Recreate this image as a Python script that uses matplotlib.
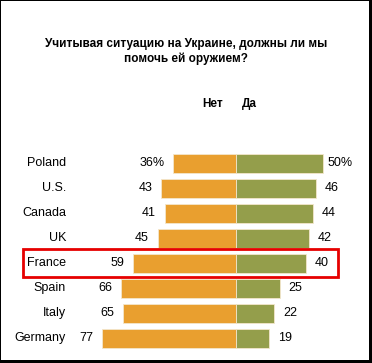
import matplotlib.pyplot as plt
from matplotlib.patches import Rectangle

countries = ['Poland', 'U.S.', 'Canada', 'UK', 'France', 'Spain', 'Italy', 'Germany']
net = [36, 43, 41, 45, 59, 66, 65, 77]
da = [50, 46, 44, 42, 40, 25, 22, 19]
highlight = 'France'

W, H = 372, 363
fig = plt.figure(figsize=(W / 100, H / 100), dpi=100)
fig.patch.set_facecolor('black')
# white card inside the black frame
fig.patches.append(Rectangle((1 / W, 3 / H), 368 / W, 359 / H, transform=fig.transFigure,
                             facecolor='white', edgecolor='none', zorder=-1))

ax = fig.add_axes([0, 0, 1, 1])
ax.set_zorder(1)
ax.patch.set_alpha(0)
px = 1.74  # pixels per percent
cx = 236
ax.set_xlim(-cx / px, (W - cx) / px)
ax.set_ylim((H - 163) / 25, -163 / 25)
ax.axis('off')

rows = list(range(len(countries)))
ax.barh(rows, [-v for v in net], height=0.76, color='#E99F2F', edgecolor='#F3E6CC', linewidth=0.6)
ax.barh(rows, da, height=0.76, color='#949E4B', edgecolor='#F3E6CC', linewidth=0.6)

fnt = 'Liberation Sans'
for i, c in enumerate(countries):
    ax.text((66 - cx) / px, i, c, ha='right', va='center', fontsize=9, family=fnt)
    ln = f'{net[i]}%' if i == 0 else str(net[i])
    rn = f'{da[i]}%' if i == 0 else str(da[i])
    ax.text(-net[i] - 5.2, i, ln, ha='right', va='center', fontsize=9, family=fnt)
    ax.text(da[i] + (2.5 if i == 0 else 5), i, rn, ha='left', va='center', fontsize=9, family=fnt)

k = countries.index(highlight)
ax.add_patch(Rectangle(((23 - cx) / px, k - 0.56), (338 - 23) / px, 1.12,
                       facecolor='none', edgecolor='#E60000', linewidth=2, zorder=5))

fig.text(186 / W, 1 - 44 / H, 'Учитывая ситуацию на Украине, должны ли мы', ha='center', va='center',
         fontsize=8.5, fontweight='bold', family=fnt)
fig.text(186 / W, 1 - 58.5 / H, 'помочь ей оружием?', ha='center', va='center',
         fontsize=8.5, fontweight='bold', family=fnt)
fig.text(213 / W, 1 - 104 / H, 'Нет', ha='center', va='center', fontsize=8.5, fontweight='bold', family=fnt)
fig.text(249 / W, 1 - 104 / H, 'Да', ha='center', va='center', fontsize=8.5, fontweight='bold', family=fnt)

fig.savefig('out.png', dpi=100, facecolor=fig.get_facecolor())
